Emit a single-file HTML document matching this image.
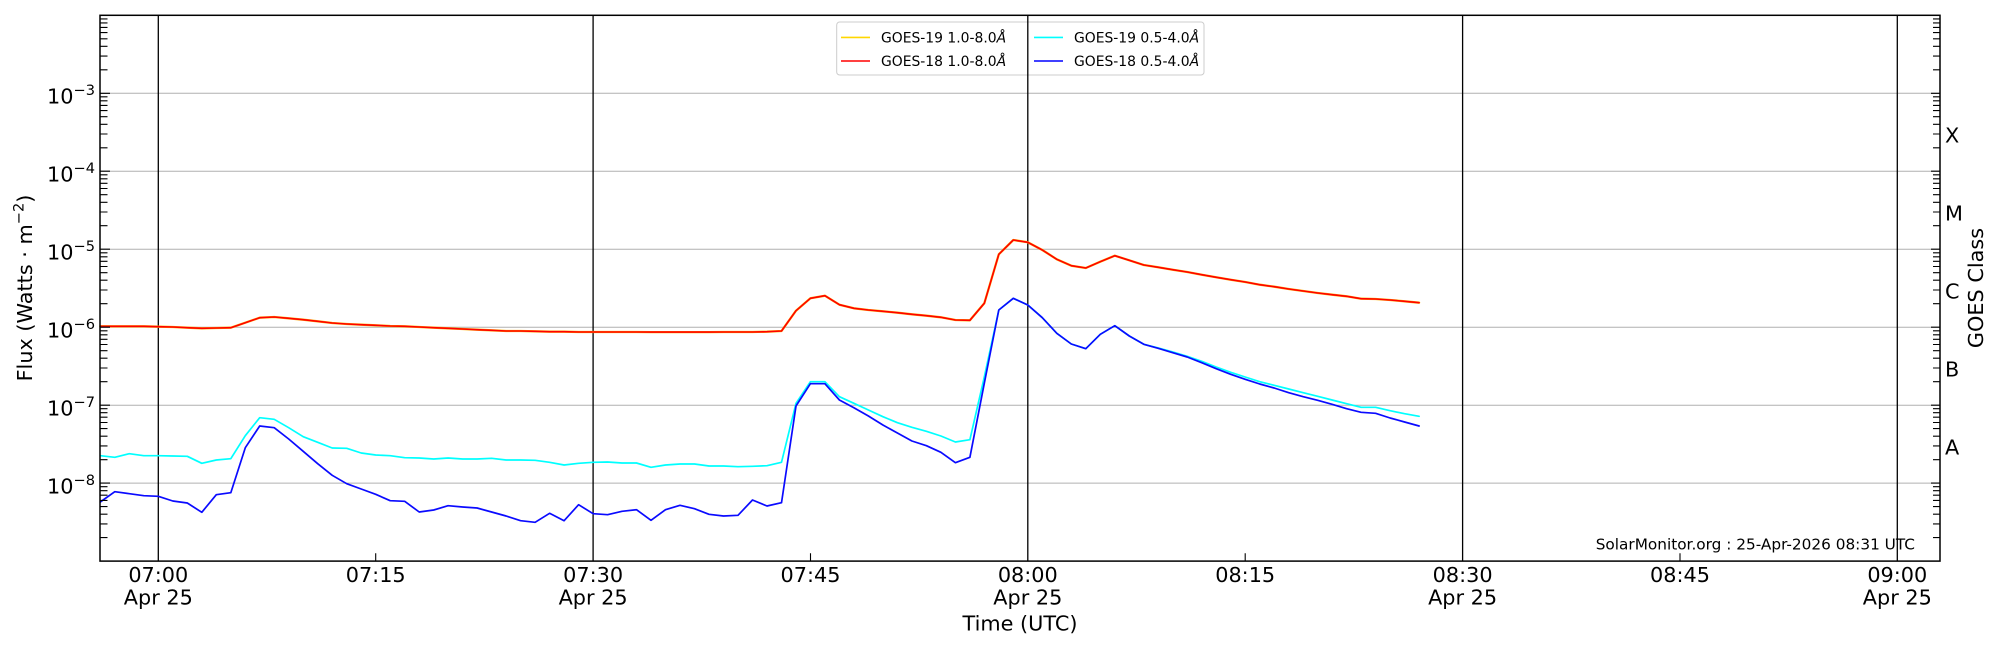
<!DOCTYPE html>
<html><head><meta charset="utf-8"><style>
html,body{margin:0;padding:0;background:#fff;}
svg{display:block;}
text{font-family:"DejaVu Sans","Liberation Sans",sans-serif;fill:#000;}
</style></head><body>
<svg width="2000" height="650" viewBox="0 0 2000 650" xmlns="http://www.w3.org/2000/svg">
<rect x="0" y="0" width="2000" height="650" fill="#fff"/>
<!-- grid -->
<g stroke="#b0b0b0" stroke-width="1">
<line x1="100" y1="93.3" x2="1940" y2="93.3"/>
<line x1="100" y1="171.2" x2="1940" y2="171.2"/>
<line x1="100" y1="249.2" x2="1940" y2="249.2"/>
<line x1="100" y1="327.2" x2="1940" y2="327.2"/>
<line x1="100" y1="405.2" x2="1940" y2="405.2"/>
<line x1="100" y1="483.1" x2="1940" y2="483.1"/>
</g>
<!-- legend -->
<rect x="836.7" y="22" width="367.3" height="53" rx="3" ry="3" fill="#fff" fill-opacity="0.85" stroke="#cccccc" stroke-width="1"/>
<g stroke-width="1.6">
<line x1="841" y1="37.4" x2="870" y2="37.4" stroke="#FFD700"/>
<line x1="841" y1="61" x2="870" y2="61" stroke="#ff0000"/>
<line x1="1034" y1="37.4" x2="1063" y2="37.4" stroke="#00ffff"/>
<line x1="1034" y1="61" x2="1063" y2="61" stroke="#0000ff"/>
</g>
<g font-size="13.9">
<text x="881" y="42.5">GOES-19 1.0-8.0<tspan font-style="italic">Å</tspan></text>
<text x="881" y="65.8">GOES-18 1.0-8.0<tspan font-style="italic">Å</tspan></text>
<text x="1074" y="42.5">GOES-19 0.5-4.0<tspan font-style="italic">Å</tspan></text>
<text x="1074" y="65.8">GOES-18 0.5-4.0<tspan font-style="italic">Å</tspan></text>
</g>
<!-- vertical hour lines -->
<g stroke="#000" stroke-width="1.3">
<line x1="158.3" y1="15.3" x2="158.3" y2="561"/>
<line x1="593.1" y1="15.3" x2="593.1" y2="561"/>
<line x1="1027.8" y1="15.3" x2="1027.8" y2="561"/>
<line x1="1462.6" y1="15.3" x2="1462.6" y2="561"/>
<line x1="1897.3" y1="15.3" x2="1897.3" y2="561"/>
</g>
<!-- data -->
<g fill="none" stroke-linejoin="round" stroke-linecap="round">
<polyline stroke="#FFB000" stroke-width="2.3" points="100.3,326.3 114.8,326.3 129.3,326.3 143.8,326.3 158.3,326.7 172.8,327 187.3,327.7 201.8,328.3 216.3,328 230.8,327.7 245.3,322.7 259.7,317.7 274.2,317 288.7,318.3 303.2,319.7 317.7,321.3 332.2,323 346.7,324 361.2,324.7 375.7,325.3 390.2,326 404.7,326.3 419.2,327 433.7,327.7 448.1,328.3 462.6,329 477.1,329.7 491.6,330.3 506.1,331 520.6,331 535.1,331.3 549.6,331.7 564.1,331.7 578.6,332 593.1,332 607.6,332 622,332 636.5,332 651,332.1 665.5,332.1 680,332.1 694.5,332.1 709,332.1 723.5,332 738,332 752.5,332 767,331.7 781.5,331 796,310.7 810.4,298.3 824.9,295.7 839.4,304.7 853.9,308.3 868.4,310 882.9,311.3 897.4,312.7 911.9,314.3 926.4,315.7 940.9,317.3 955.4,320 969.9,320.3 984.3,303.3 998.8,254.3 1013.3,240 1027.8,242.3 1042.3,250 1056.8,259.3 1071.3,265.7 1085.8,268 1100.3,261.7 1114.8,255.7 1129.3,260.3 1143.8,265 1158.2,267.3 1172.7,269.7 1187.2,272 1201.7,274.7 1216.2,277.3 1230.7,279.7 1245.2,282 1259.7,284.7 1274.2,286.7 1288.7,289 1303.2,291 1317.7,293 1332.1,294.7 1346.6,296.3 1361.1,298.7 1375.6,299 1390.1,300 1404.6,301.3 1419.1,302.7"/>
<polyline stroke="#ff0000" stroke-width="1.6" points="100.3,326.3 114.8,326.3 129.3,326.3 143.8,326.3 158.3,326.7 172.8,327 187.3,327.7 201.8,328.3 216.3,328 230.8,327.7 245.3,322.7 259.7,317.7 274.2,317 288.7,318.3 303.2,319.7 317.7,321.3 332.2,323 346.7,324 361.2,324.7 375.7,325.3 390.2,326 404.7,326.3 419.2,327 433.7,327.7 448.1,328.3 462.6,329 477.1,329.7 491.6,330.3 506.1,331 520.6,331 535.1,331.3 549.6,331.7 564.1,331.7 578.6,332 593.1,332 607.6,332 622,332 636.5,332 651,332.1 665.5,332.1 680,332.1 694.5,332.1 709,332.1 723.5,332 738,332 752.5,332 767,331.7 781.5,331 796,310.7 810.4,298.3 824.9,295.7 839.4,304.7 853.9,308.3 868.4,310 882.9,311.3 897.4,312.7 911.9,314.3 926.4,315.7 940.9,317.3 955.4,320 969.9,320.3 984.3,303.3 998.8,254.3 1013.3,240 1027.8,242.3 1042.3,250 1056.8,259.3 1071.3,265.7 1085.8,268 1100.3,261.7 1114.8,255.7 1129.3,260.3 1143.8,265 1158.2,267.3 1172.7,269.7 1187.2,272 1201.7,274.7 1216.2,277.3 1230.7,279.7 1245.2,282 1259.7,284.7 1274.2,286.7 1288.7,289 1303.2,291 1317.7,293 1332.1,294.7 1346.6,296.3 1361.1,298.7 1375.6,299 1390.1,300 1404.6,301.3 1419.1,302.7"/>
<polyline stroke="#00ffff" stroke-width="1.7" points="100.3,455.7 114.8,457.3 129.3,453.7 143.8,455.7 158.3,455.7 172.8,456 187.3,456.3 201.8,463.3 216.3,460 230.8,458.7 245.3,435.7 259.7,417.7 274.2,419.3 288.7,427.7 303.2,436.7 317.7,442.3 332.2,448 346.7,448.3 361.2,453 375.7,455 390.2,455.7 404.7,457.7 419.2,458 433.7,459 448.1,458 462.6,459 477.1,459 491.6,458.3 506.1,460 520.6,460 535.1,460.3 549.6,462.3 564.1,465 578.6,463.3 593.1,462.3 607.6,462 622,463 636.5,463 651,467.3 665.5,465 680,464 694.5,464 709,466 723.5,466 738,466.7 752.5,466.3 767,465.7 781.5,462.3 796,403.3 810.4,381.7 824.9,381.7 839.4,396.7 853.9,403.3 868.4,410 882.9,416.7 897.4,422.7 911.9,427.3 926.4,431.3 940.9,436 955.4,442 969.9,439.7 984.3,377 998.8,310 1013.3,298.3 1027.8,305 1042.3,317.7 1056.8,333.3 1071.3,344 1085.8,348.7 1100.3,334.3 1114.8,325.7 1129.3,336 1143.8,344.3 1158.2,348 1172.7,352 1187.2,356.3 1201.7,361.3 1216.2,367 1230.7,372.3 1245.2,377 1259.7,381.7 1274.2,385.3 1288.7,389 1303.2,392.7 1317.7,396.3 1332.1,400 1346.6,403.7 1361.1,407.3 1375.6,407.3 1390.1,410.7 1404.6,413.7 1419.1,416.3"/>
<polyline stroke="#0a0aff" stroke-width="1.7" points="100.3,502 114.8,491.7 129.3,493.7 143.8,495.7 158.3,496.3 172.8,501 187.3,503 201.8,512.3 216.3,494.7 230.8,492.7 245.3,447.7 259.7,426 274.2,427.7 288.7,439 303.2,451.3 317.7,463.7 332.2,475.3 346.7,483.7 361.2,489 375.7,494.3 390.2,500.7 404.7,501.3 419.2,512 433.7,510 448.1,505.7 462.6,507 477.1,508 491.6,512 506.1,516 520.6,520.7 535.1,522.3 549.6,513.3 564.1,520.7 578.6,504.7 593.1,513.7 607.6,514.7 622,511.3 636.5,509.7 651,520.3 665.5,509.7 680,505.3 694.5,508.7 709,514.3 723.5,516 738,515.3 752.5,500 767,506 781.5,502.7 796,406 810.4,383.7 824.9,383.7 839.4,400 853.9,407.7 868.4,416 882.9,425 897.4,433 911.9,441 926.4,445.7 940.9,452.3 955.4,462.7 969.9,457.3 984.3,383.3 998.8,310 1013.3,298.3 1027.8,305 1042.3,317.7 1056.8,333.3 1071.3,344 1085.8,348.7 1100.3,334.3 1114.8,325.7 1129.3,336 1143.8,344.3 1158.2,348.3 1172.7,352.7 1187.2,357 1201.7,362.7 1216.2,368.7 1230.7,374.3 1245.2,379.3 1259.7,384 1274.2,388 1288.7,392.7 1303.2,396.7 1317.7,400.3 1332.1,404.3 1346.6,408.7 1361.1,412.3 1375.6,413.3 1390.1,418 1404.6,422 1419.1,426"/>
</g>
<!-- left ticks -->
<g stroke="#000" stroke-width="1.1">
<path d="M100,537.6h7.5M100,523.9h7.5M100,514.2h7.5M100,506.6h7.5M100,500.4h7.5M100,495.2h7.5M100,490.7h7.5M100,486.7h7.5
M100,459.7h7.5M100,445.9h7.5M100,436.2h7.5M100,428.6h7.5M100,422.5h7.5M100,417.2h7.5M100,412.7h7.5M100,408.7h7.5
M100,381.7h7.5M100,368h7.5M100,358.2h7.5M100,350.7h7.5M100,344.5h7.5M100,339.3h7.5M100,334.8h7.5M100,330.8h7.5
M100,303.7h7.5M100,290h7.5M100,280.2h7.5M100,272.7h7.5M100,266.5h7.5M100,261.3h7.5M100,256.8h7.5M100,252.8h7.5
M100,225.7h7.5M100,212h7.5M100,202.3h7.5M100,194.7h7.5M100,188.5h7.5M100,183.3h7.5M100,178.8h7.5M100,174.8h7.5
M100,147.8h7.5M100,134h7.5M100,124.3h7.5M100,116.7h7.5M100,110.6h7.5M100,105.4h7.5M100,100.8h7.5M100,96.8h7.5
M100,69.8h7.5M100,56.1h7.5M100,46.3h7.5M100,38.8h7.5M100,32.6h7.5M100,27.4h7.5M100,22.9h7.5M100,18.9h7.5
M100,483.1h10M100,405.2h10M100,327.2h10M100,249.2h10M100,171.2h10M100,93.3h10"/>
<path d="M1940,537.6h-7M1940,523.9h-7M1940,514.2h-7M1940,506.6h-7M1940,500.4h-7M1940,495.2h-7M1940,490.7h-7M1940,486.7h-7
M1940,459.7h-7M1940,445.9h-7M1940,436.2h-7M1940,428.6h-7M1940,422.5h-7M1940,417.2h-7M1940,412.7h-7M1940,408.7h-7
M1940,381.7h-7M1940,368h-7M1940,358.2h-7M1940,350.7h-7M1940,344.5h-7M1940,339.3h-7M1940,334.8h-7M1940,330.8h-7
M1940,303.7h-7M1940,290h-7M1940,280.2h-7M1940,272.7h-7M1940,266.5h-7M1940,261.3h-7M1940,256.8h-7M1940,252.8h-7
M1940,225.7h-7M1940,212h-7M1940,202.3h-7M1940,194.7h-7M1940,188.5h-7M1940,183.3h-7M1940,178.8h-7M1940,174.8h-7
M1940,147.8h-7M1940,134h-7M1940,124.3h-7M1940,116.7h-7M1940,110.6h-7M1940,105.4h-7M1940,100.8h-7M1940,96.8h-7
M1940,69.8h-7M1940,56.1h-7M1940,46.3h-7M1940,38.8h-7M1940,32.6h-7M1940,27.4h-7M1940,22.9h-7M1940,18.9h-7
M1940,483.1h-9M1940,405.2h-9M1940,327.2h-9M1940,249.2h-9M1940,171.2h-9M1940,93.3h-9"/>
<path d="M375.7,561v-7.7M810.5,561v-7.7M1245.2,561v-7.7M1680,561v-7.7"/>
</g>
<!-- axes frame -->
<rect x="100" y="15.3" width="1840" height="545.8" fill="none" stroke="#000" stroke-width="1.5"/>
<!-- y tick labels -->
<g font-size="20.8" text-anchor="end">
<text x="95" y="103.5">10<tspan font-size="14.6" dy="-8.3">−3</tspan></text>
<text x="95" y="181.4">10<tspan font-size="14.6" dy="-8.3">−4</tspan></text>
<text x="95" y="259.4">10<tspan font-size="14.6" dy="-8.3">−5</tspan></text>
<text x="95" y="337.4">10<tspan font-size="14.6" dy="-8.3">−6</tspan></text>
<text x="95" y="415.4">10<tspan font-size="14.6" dy="-8.3">−7</tspan></text>
<text x="95" y="493.3">10<tspan font-size="14.6" dy="-8.3">−8</tspan></text>
</g>
<!-- GOES class labels -->
<g font-size="20.8">
<text x="1945" y="142.5">X</text>
<text x="1945" y="220.5">M</text>
<text x="1945" y="298.5">C</text>
<text x="1945" y="376.4">B</text>
<text x="1945" y="454.4">A</text>
</g>
<!-- x tick labels -->
<g font-size="20.8" text-anchor="middle">
<text x="158.3" y="582">07:00</text><text x="158.3" y="604.5">Apr 25</text>
<text x="375.7" y="582">07:15</text>
<text x="593.1" y="582">07:30</text><text x="593.1" y="604.5">Apr 25</text>
<text x="810.5" y="582">07:45</text>
<text x="1027.8" y="582">08:00</text><text x="1027.8" y="604.5">Apr 25</text>
<text x="1245.2" y="582">08:15</text>
<text x="1462.6" y="582">08:30</text><text x="1462.6" y="604.5">Apr 25</text>
<text x="1680" y="582">08:45</text>
<text x="1897.3" y="582">09:00</text><text x="1897.3" y="604.5">Apr 25</text>
<text x="1020" y="630.7">Time (UTC)</text>
</g>
<!-- axis labels -->
<text font-size="20.8" text-anchor="middle" transform="translate(32,288) rotate(-90)">Flux (Watts · m<tspan font-size="14.6" dy="-8.3">−2</tspan><tspan dy="8.3">)</tspan></text>
<text font-size="20.8" text-anchor="middle" transform="translate(1983,288) rotate(-90)">GOES Class</text>
<!-- watermark -->
<text font-size="15.3" text-anchor="end" x="1915" y="549.3">SolarMonitor.org : 25-Apr-2026 08:31 UTC</text>
</svg>
</body></html>
